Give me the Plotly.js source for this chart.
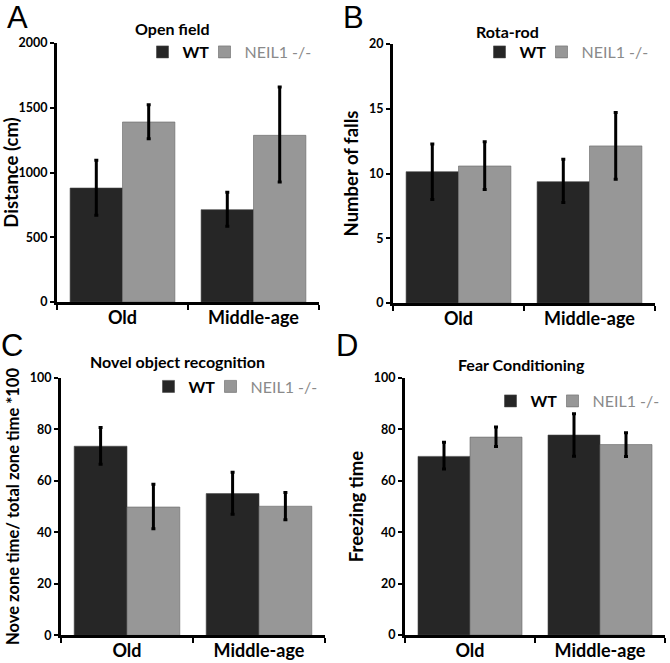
<!DOCTYPE html>
<html>
<head>
<meta charset="utf-8">
<script src="https://cdn.plot.ly/plotly-3.0.1.min.js"></script>
<style>html,body{margin:0;padding:0;background:#fff;}#chart{width:670px;height:663px;}</style>
</head>
<body>
<div id="chart"></div>
<script>
// ---- Data ----
const categories = ["Old", "Middle-age"];
const seriesNames = ["WT", "NEIL1 -/-"];

// Panel A: Open field (Distance, cm)
const openWT = [880, 713];
const openWTUp = [214, 134];
const openWTDown = [211, 129];
const openKO = [1390, 1287];
const openKOUp = [134, 373];
const openKODown = [129, 360];

// Panel B: Rota-rod (Number of falls)
const rotaWT = [10.14, 9.37];
const rotaWTUp = [2.14, 1.73];
const rotaWTDown = [2.14, 1.60];
const rotaKO = [10.58, 12.13];
const rotaKOUp = [1.88, 2.58];
const rotaKODown = [1.81, 2.58];

// Panel C: Novel object recognition
const novelWT = [73.4, 55.0];
const novelWTUp = [7.3, 8.3];
const novelWTDown = [7.0, 8.0];
const novelKO = [49.8, 50.1];
const novelKOUp = [8.8, 5.3];
const novelKODown = [8.4, 5.2];

// Panel D: Fear Conditioning (Freezing time)
const fearWT = [69.5, 77.8];
const fearWTUp = [5.5, 8.3];
const fearWTDown = [4.9, 8.2];
const fearKO = [77.0, 74.1];
const fearKOUp = [3.9, 4.6];
const fearKODown = [3.7, 4.6];

const panelTitles = ["Open field", "Rota-rod", "Novel object recognition", "Fear Conditioning"];
const yTitles = ["Distance (cm)", "Number of falls", "Nove zone time/ total zone time *100", "Freezing time"];
const panelLetters = ["A", "B", "C", "D"];
const yRanges = [[0, 2000], [0, 20], [0, 100], [0, 100]];
const yDticks = [500, 5, 20, 20];

// ---- Styling ----
const FONT = "Lato, 'Open Sans', sans-serif";
const WT_COLOR = "#262626";
const KO_COLOR = "#979797";

const panels = [
  {wt: openWT, wtU: openWTUp, wtD: openWTDown, ko: openKO, koU: openKOUp, koD: openKODown},
  {wt: rotaWT, wtU: rotaWTUp, wtD: rotaWTDown, ko: rotaKO, koU: rotaKOUp, koD: rotaKODown},
  {wt: novelWT, wtU: novelWTUp, wtD: novelWTDown, ko: novelKO, koU: novelKOUp, koD: novelKODown},
  {wt: fearWT, wtU: fearWTUp, wtD: fearWTDown, ko: fearKO, koU: fearKOUp, koD: fearKODown}
];

// layout geometry (pixels -> paper fractions)
const W = 670, H = 663;
const boxes = [
  {x0: 57, x1: 319, yTop: 43, yBot: 302},
  {x0: 393, x1: 655, yTop: 44, yBot: 303},
  {x0: 61, x1: 325, yTop: 377.7, yBot: 635.3},
  {x0: 405, x1: 665, yTop: 378, yBot: 635}
];
const titlePos = [{x: 172, y: 29}, {x: 508, y: 31}, {x: 177, y: 362}, {x: 521, y: 364}];
const letterPos = [{x: 17, y: 17}, {x: 353, y: 17}, {x: 12, y: 345}, {x: 347, y: 345}];
const legendPos = [{x: 142.5, y: 52}, {x: 479.5, y: 52}, {x: 148.5, y: 386.5}, {x: 490.5, y: 401}];

const traces = [];
const layout = {
  width: W, height: H,
  margin: {l: 0, r: 0, t: 0, b: 0, autoexpand: false},
  paper_bgcolor: "#fff", plot_bgcolor: "#fff",
  barmode: "group", bargap: 0.2, bargroupgap: 0,
  font: {family: FONT, color: "#000"},
  annotations: [],
  showlegend: true
};

panels.forEach((p, i) => {
  const n = i === 0 ? "" : String(i + 1);
  const xa = "x" + n, ya = "y" + n;
  const legendId = i === 0 ? "legend" : "legend" + (i + 1);
  const errStyle = {type: "data", symmetric: false, color: "#000", thickness: 3, width: 2};
  traces.push({
    type: "bar", x: categories, y: p.wt, name: "<b>" + seriesNames[0] + "</b>",
    xaxis: xa, yaxis: ya, legend: legendId, legendwidth: 17,
    marker: {color: WT_COLOR, line: {color: "#444", width: 0.6}},
    error_y: Object.assign({array: p.wtU, arrayminus: p.wtD}, errStyle)
  });
  traces.push({
    type: "bar", x: categories, y: p.ko, name: "<span style='color:#8a8a8a'>" + seriesNames[1] + "</span>",
    xaxis: xa, yaxis: ya, legend: legendId, legendwidth: 64,
    marker: {color: KO_COLOR, line: {color: "#666", width: 0.6}},
    error_y: Object.assign({array: p.koU, arrayminus: p.koD}, errStyle)
  });
  const b = boxes[i];
  layout["xaxis" + n] = {
    domain: [b.x0 / W, b.x1 / W], anchor: ya,
    showline: true, linecolor: "#000", linewidth: 3,
    ticks: "outside", tickson: "boundaries", ticklen: 5, tickwidth: 2.5, tickcolor: "#000",
    ticklabelstandoff: -3,
    tickfont: {family: FONT, size: 18, color: "#000", weight: "bold"},
    showgrid: false, zeroline: false, fixedrange: true, automargin: false
  };
  layout["yaxis" + n] = {
    domain: [1 - b.yBot / H, 1 - b.yTop / H], anchor: xa,
    range: yRanges[i], dtick: yDticks[i],
    showline: true, linecolor: "#000", linewidth: 3,
    ticks: "outside", ticklen: 4, tickwidth: 2, tickcolor: "#000",
    tickfont: {family: FONT, size: 12.5, color: "#000", weight: "bold"},
    title: {text: yTitles[i], font: {family: FONT, size: i === 2 ? 16.5 : 18.5, color: "#000", weight: "bold"}, standoff: 6},
    showgrid: false, zeroline: false, fixedrange: true, automargin: false
  };
  layout[legendId] = {
    orientation: "h", x: legendPos[i].x / W, y: 1 - legendPos[i].y / H,
    xanchor: "left", yanchor: "middle",
    bgcolor: "rgba(0,0,0,0)", borderwidth: 0,
    font: {family: FONT, size: 16, color: "#000"},
    itemwidth: 30, traceorder: "normal"
  };
  layout.annotations.push({
    text: "<b>" + panelTitles[i] + "</b>", xref: "paper", yref: "paper",
    x: titlePos[i].x / W, y: 1 - titlePos[i].y / H, xanchor: "center", yanchor: "middle",
    showarrow: false, font: {family: FONT, size: 16, color: "#000"}
  });
  layout.annotations.push({
    text: panelLetters[i], xref: "paper", yref: "paper",
    x: letterPos[i].x / W, y: 1 - letterPos[i].y / H, xanchor: "center", yanchor: "middle",
    showarrow: false, font: {family: "'Liberation Sans', Arial, sans-serif", size: 31, color: "#000"}
  });
});

Plotly.newPlot("chart", traces, layout, {staticPlot: true, displayModeBar: false});
</script>
</body>
</html>
